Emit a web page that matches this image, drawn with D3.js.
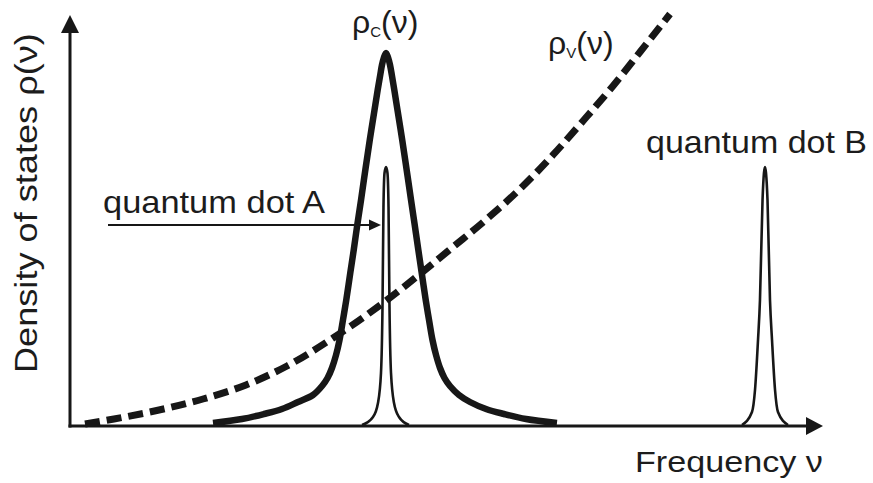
<!DOCTYPE html>
<html>
<head>
<meta charset="utf-8">
<script src="https://cdn.jsdelivr.net/npm/d3@7"></script>
<style>
  html, body { margin: 0; background: #fff; }
  svg { display: block; }
  text { font-family: "Liberation Sans", Arial, Helvetica, sans-serif; fill: #1c1c1c; }
</style>
</head>
<body>
<svg id="chart" width="873" height="483"></svg>
<script>
// Frequency and density of states in arbitrary units (both axes 0–100).

// Cavity mode density rho_C(nu): broad resonance
const cavityFreq = [18.99, 22.84, 25.76, 28.15, 30.28, 32.27, 33.47, 34.20, 34.79, 35.33, 35.79, 36.25, 36.69,
                    37.22, 37.68, 38.15, 38.65, 39.22, 39.81, 40.44, 40.86, 41.20, 41.43, 41.67, 41.97,
                    42.26, 42.50, 42.74, 43.07, 43.49, 44.12, 44.71, 45.29, 45.78, 46.26, 46.71, 47.24,
                    47.68, 48.14, 48.61, 49.14, 49.73, 50.46, 51.66, 53.12, 55.25, 57.64, 60.56, 64.67];
const cavityDos  = [0.73, 1.70, 2.92, 4.14, 5.84, 7.54, 9.73, 11.68, 14.11, 17.27, 20.92, 25.79, 30.66,
                    37.23, 42.82, 48.91, 54.99, 62.29, 69.59, 76.89, 81.75, 85.40, 87.83, 89.54, 90.75,
                    89.54, 87.83, 85.40, 81.75, 76.89, 69.59, 62.29, 54.99, 48.91, 42.82, 37.23, 30.66,
                    25.79, 20.92, 17.27, 14.11, 11.68, 9.73, 7.54, 5.84, 4.14, 2.92, 1.70, 0.73];

// Vacuum (free-space) mode density rho_V(nu): rising curve
const vacuumFreq = [1.99, 5.84, 11.82, 17.66, 23.37, 28.82, 34.93, 41.57, 47.14, 50.86, 55.51,
                    60.03, 64.14, 68.13, 72.11, 75.70, 79.68];
const vacuumDos  = [0.49, 1.70, 3.89, 6.57, 9.98, 14.60, 21.41, 29.93, 37.96, 43.55, 50.61,
                    58.15, 65.94, 74.21, 82.73, 91.00, 100.24];

// Emission line of quantum dot A (on resonance with the cavity)
const dotAFreq = [38.78, 40.24, 40.90, 41.30, 41.50, 41.63, 41.77, 41.97, 42.16, 42.30, 42.43, 42.63, 43.03, 43.69, 45.02];
const dotADos  = [0.24, 2.19, 5.60, 12.90, 28.95, 53.28, 61.56, 63.02, 61.56, 53.28, 28.95, 12.90, 5.60, 2.19, 0.24];

// Emission line of quantum dot B (off resonance)
const dotBFreq = [89.24, 90.57, 90.97, 91.37, 91.63, 91.97, 92.16, 92.30, 92.43, 92.63, 92.96, 93.23, 93.63, 94.02, 95.35];
const dotBDos  = [0.24, 3.41, 8.76, 20.92, 30.66, 54.99, 61.56, 63.02, 61.56, 54.99, 30.66, 20.92, 8.76, 3.41, 0.24];

const axisTitles = ["Frequency ν", "Density of states ρ(ν)"];
const dotLabels  = ["quantum dot A", "quantum dot B"];
const curveSubscripts = ["C", "V"];

const svg = d3.select("#chart");
const ink = "#171717";

const x = d3.scaleLinear().domain([0, 100]).range([70, 823]);
const y = d3.scaleLinear().domain([0, 100]).range([426, 15]);

const zip = (xs, ys) => xs.map((v, i) => [v, ys[i]]);
const line = d3.line().x(d => x(d[0])).y(d => y(d[1]));

// Axes without ticks, each ending in an arrowhead
const xAxis = svg.append("g").attr("transform", `translate(0,${y(0)})`)
  .call(d3.axisBottom(x).tickValues([]).tickSizeOuter(0));
const yAxis = svg.append("g").attr("transform", `translate(${x(0)},0)`)
  .call(d3.axisLeft(y).tickValues([]).tickSizeOuter(0));
[xAxis, yAxis].forEach(g => g.select(".domain")
  .attr("stroke", ink).attr("stroke-width", 3).attr("stroke-linecap", "square"));
// trim the axis lines so the arrowheads sit on their ends
xAxis.select(".domain").attr("d", `M${x(0)},0H${x(100) - 10}`);
yAxis.select(".domain").attr("d", `M0,${y(0)}V${y(100) + 10}`);

const xTip = x(100), yBase = y(0);
svg.append("path")
  .attr("d", `M${xTip},${yBase}L${xTip - 17},${yBase - 9}L${xTip - 17},${yBase + 9}Z`)
  .attr("fill", ink);
const yTip = y(100), xBase = x(0);
svg.append("path")
  .attr("d", `M${xBase},${yTip}L${xBase - 9},${yTip + 18}L${xBase + 9},${yTip + 18}Z`)
  .attr("fill", ink);

// Curves
svg.append("path").datum(zip(vacuumFreq, vacuumDos))
  .attr("d", line.curve(d3.curveMonotoneX)).attr("fill", "none").attr("stroke", ink)
  .attr("stroke-width", 7).attr("stroke-dasharray", "15,7");

svg.append("path").datum(zip(cavityFreq, cavityDos))
  .attr("d", line.curve(d3.curveCatmullRom.alpha(0.5))).attr("fill", "none").attr("stroke", ink)
  .attr("stroke-width", 6.5).attr("stroke-linejoin", "round");

[zip(dotAFreq, dotADos), zip(dotBFreq, dotBDos)].forEach(pts => {
  svg.append("path").datum(pts)
    .attr("d", line.curve(d3.curveMonotoneX)).attr("fill", "none").attr("stroke", ink)
    .attr("stroke-width", 2.6).attr("stroke-linejoin", "round");
});

// Text set in a slightly widened sans-serif: stretch horizontally to the given width
function wideText(str, px, py, size, width, rotate) {
  const t = svg.append("text").attr("font-size", size).text(str);
  const s = width / t.node().getComputedTextLength();
  t.attr("transform", `translate(${px},${py})${rotate ? " rotate(-90)" : ""} scale(${s},1)`);
  return t;
}

// Axis titles
wideText(axisTitles[0], 635, 472, 30, 188, false);
wideText(axisTitles[1], 37, 373, 32, 340, true);

// Density-of-states curve labels rho_C(nu) and rho_V(nu)
function rhoLabel(px, py, sub) {
  const t = svg.append("text").attr("x", px).attr("y", py).attr("font-size", 32);
  t.append("tspan").text("ρ");
  t.append("tspan").attr("font-size", 15).attr("dy", 4).text(sub);
  t.append("tspan").attr("dy", -4).text("(ν)");
}
const cPeak = d3.maxIndex(cavityDos);
rhoLabel(x(cavityFreq[cPeak]) - 34, y(cavityDos[cPeak]) - 20, curveSubscripts[0]);
rhoLabel(548, 54, curveSubscripts[1]);

// Quantum dot labels
const bPeak = d3.maxIndex(dotBDos);
wideText(dotLabels[0], 103, 213, 31, 222, false);
wideText(dotLabels[1], 646, y(dotBDos[bPeak]) - 14, 31, 221, false);

// Pointer from the label to the dot A line
const arrowY = y(48.9), arrowEnd = x(41.3);
svg.append("line").attr("x1", 108).attr("x2", arrowEnd - 10)
  .attr("y1", arrowY).attr("y2", arrowY)
  .attr("stroke", ink).attr("stroke-width", 1.8);
svg.append("path")
  .attr("d", `M${arrowEnd},${arrowY}L${arrowEnd - 12},${arrowY - 5.5}L${arrowEnd - 12},${arrowY + 5.5}Z`)
  .attr("fill", ink);
</script>
</body>
</html>
